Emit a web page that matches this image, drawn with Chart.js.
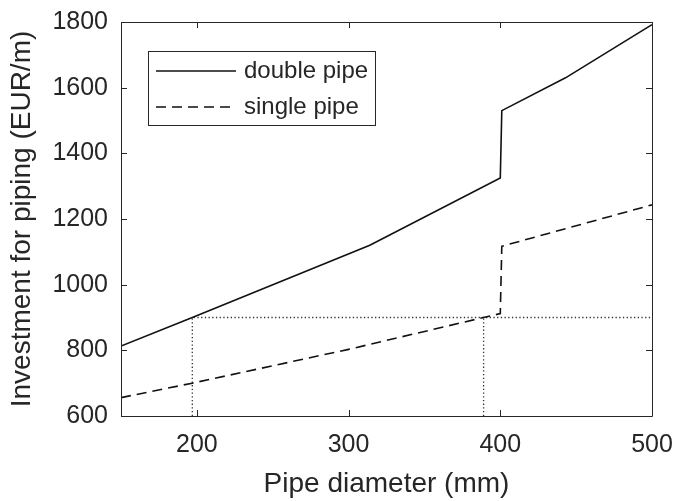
<!DOCTYPE html>
<html>
<head>
<meta charset="utf-8">
<script src="https://cdn.jsdelivr.net/npm/chart.js@4.4.1/dist/chart.umd.min.js"></script>
<style>
    html, body { margin: 0; padding: 0; background: #fff; }
    canvas { display: block; }
</style>
</head>
<body>
<canvas id="pipeChart" width="676" height="501"></canvas>
<script>
// Datos
const doubleX = [150, 197, 314, 400, 401, 443, 500];
const doubleY = [813, 900, 1120, 1325, 1530, 1630, 1792];
const singleX = [150, 197, 300, 389, 400, 401, 500];
const singleY = [656, 700, 803, 900, 912, 1117, 1243];
// lineas punteadas de referencia
const guideAX = [197, 197, 500];
const guideAY = [600, 900, 900];
const guideBX = [389, 389];
const guideBY = [600, 900];
const xTicks = [200, 300, 400, 500];
const yTicks = [600, 800, 1000, 1200, 1400, 1600, 1800];
const labels = ['double pipe', 'single pipe'];

const axisColor = '#262626';
const fontFamily = '"Liberation Sans", Arial, Helvetica, sans-serif';

function toPoints(xs, ys) {
    return xs.map((x, i) => ({ x: x, y: ys[i] }));
}

// ticks hacia dentro y marco completo (estilo MATLAB)
const boxPlugin = {
    id: 'boxTicks',
    afterDraw(chart) {
        const ctx = chart.ctx;
        const area = chart.chartArea;
        const xs = chart.scales.x;
        const ys = chart.scales.y;
        const len = 6;
        ctx.save();
        ctx.strokeStyle = axisColor;
        ctx.lineWidth = 1;
        ctx.beginPath();
        ctx.rect(area.left + 0.5, area.top + 0.5, area.right - area.left, area.bottom - area.top);
        xTicks.forEach(v => {
            const px = Math.round(xs.getPixelForValue(v)) + 0.5;
            ctx.moveTo(px, area.bottom);
            ctx.lineTo(px, area.bottom - len);
            ctx.moveTo(px, area.top);
            ctx.lineTo(px, area.top + len);
        });
        yTicks.forEach(v => {
            const py = Math.round(ys.getPixelForValue(v)) + 0.5;
            ctx.moveTo(area.left, py);
            ctx.lineTo(area.left + len, py);
            ctx.moveTo(area.right, py);
            ctx.lineTo(area.right - len, py);
        });
        ctx.stroke();
        ctx.restore();
    }
};

// leyenda dentro del area del grafico
const legendPlugin = {
    id: 'boxLegend',
    afterDraw(chart) {
        const ctx = chart.ctx;
        const left = 148, top = 51, width = 227, height = 74;
        ctx.save();
        ctx.fillStyle = '#fff';
        ctx.fillRect(left, top, width, height);
        ctx.strokeStyle = axisColor;
        ctx.lineWidth = 1;
        ctx.strokeRect(left + 0.5, top + 0.5, width, height);
        ctx.font = '24px ' + fontFamily;
        ctx.textBaseline = 'middle';
        [0, 1].forEach(i => {
            const ds = chart.data.datasets[i];
            const y = top + 20 + i * 36;
            ctx.strokeStyle = ds.borderColor;
            ctx.lineWidth = ds.borderWidth;
            ctx.setLineDash(ds.borderDash || []);
            ctx.beginPath();
            ctx.moveTo(left + 8, y);
            ctx.lineTo(left + 88, y);
            ctx.stroke();
            ctx.setLineDash([]);
            ctx.fillStyle = '#262626';
            ctx.fillText(ds.label, left + 96, y);
        });
        ctx.restore();
    }
};

const guideStyle = {
    borderColor: '#333',
    borderWidth: 1.3,
    borderDash: [1.3, 2.4],
    pointRadius: 0,
    fill: false,
    tension: 0
};

new Chart(document.getElementById('pipeChart'), {
    type: 'line',
    data: {
        datasets: [
            {
                label: labels[0],
                data: toPoints(doubleX, doubleY),
                borderColor: '#111',
                borderWidth: 1.6,
                pointRadius: 0,
                fill: false,
                tension: 0
            },
            {
                label: labels[1],
                data: toPoints(singleX, singleY),
                borderColor: '#111',
                borderWidth: 1.6,
                borderDash: [10, 6],
                pointRadius: 0,
                fill: false,
                tension: 0
            },
            Object.assign({ label: 'guideA', data: toPoints(guideAX, guideAY) }, guideStyle),
            Object.assign({ label: 'guideB', data: toPoints(guideBX, guideBY) }, guideStyle)
        ]
    },
    options: {
        responsive: false,
        animation: false,
        layout: { padding: { top: 22, right: 24, left: 0, bottom: 0 } },
        plugins: {
            legend: { display: false },
            tooltip: { enabled: false }
        },
        scales: {
            x: {
                type: 'linear',
                min: 150,
                max: 500,
                afterFit(scale) {
                    scale.height = 85;
                    scale.paddingLeft = 0;
                    scale.paddingRight = 0;
                },
                afterBuildTicks(scale) { scale.ticks = xTicks.map(v => ({ value: v })); },
                grid: { display: false, drawTicks: false },
                border: { display: false },
                ticks: {
                    padding: 14,
                    color: '#262626',
                    font: { family: fontFamily, size: 25 },
                    maxRotation: 0,
                    callback: v => String(v)
                },
                title: {
                    display: true,
                    text: 'Pipe diameter (mm)',
                    color: '#262626',
                    font: { family: fontFamily, size: 28, lineHeight: 1.2 },
                    padding: { top: 0, bottom: 0 }
                }
            },
            y: {
                type: 'linear',
                min: 600,
                max: 1800,
                afterFit(scale) {
                    scale.width = 121;
                    scale.paddingTop = 0;
                    scale.paddingBottom = 0;
                },
                afterBuildTicks(scale) { scale.ticks = yTicks.map(v => ({ value: v })); },
                grid: { display: false, drawTicks: false },
                border: { display: false },
                ticks: {
                    padding: 13,
                    color: '#262626',
                    font: { family: fontFamily, size: 25 },
                    callback: v => String(v)
                },
                title: {
                    display: true,
                    text: 'Investment for piping (EUR/m)',
                    color: '#262626',
                    font: { family: fontFamily, size: 28, lineHeight: 1.2 },
                    padding: { top: 5, bottom: 0 }
                }
            }
        }
    },
    plugins: [boxPlugin, legendPlugin]
});
</script>
</body>
</html>
